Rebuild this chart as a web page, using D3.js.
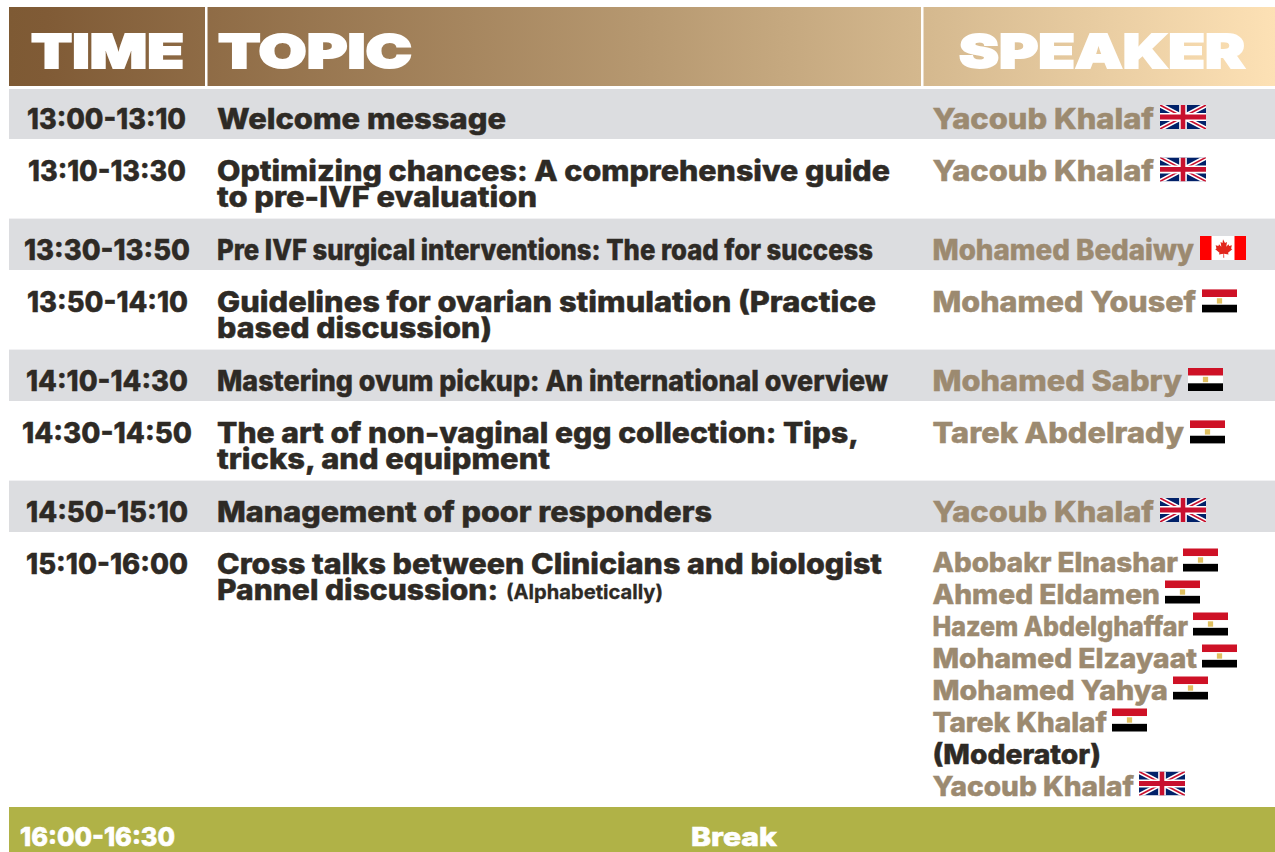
<!DOCTYPE html>
<html><head><meta charset="utf-8">
<script src="https://cdn.jsdelivr.net/npm/d3@7"></script>
<style>html,body{margin:0;background:#fff;overflow:hidden}svg{display:block}text{font-family:Inter,"Noto Sans",sans-serif}</style>
</head><body><svg id="c" width="1275" height="852"></svg>
<script>
// ---- data ----
const headers = ["TIME","TOPIC","SPEAKER"];
const times = ["13:00-13:10","13:10-13:30","13:30-13:50","13:50-14:10","14:10-14:30","14:30-14:50","14:50-15:10","15:10-16:00"];
const topics = [
 ["Welcome message"],
 ["Optimizing chances: A comprehensive guide","to pre-IVF evaluation"],
 ["Pre IVF surgical interventions: The road for success"],
 ["Guidelines for ovarian stimulation (Practice","based discussion)"],
 ["Mastering ovum pickup: An international overview"],
 ["The art of non-vaginal egg collection: Tips,","tricks, and equipment"],
 ["Management of poor responders"],
 ["Cross talks between Clinicians and biologist","Pannel discussion:"]
];
const topicNote = "(Alphabetically)";
const rowSpeakers = ["Yacoub Khalaf","Yacoub Khalaf","Mohamed Bedaiwy","Mohamed Yousef","Mohamed Sabry","Tarek Abdelrady","Yacoub Khalaf"];
const rowFlags = ["uk","uk","ca","eg","eg","eg","uk"];
const panel = ["Abobakr Elnashar","Ahmed Eldamen","Hazem Abdelghaffar","Mohamed Elzayaat","Mohamed Yahya","Tarek Khalaf","(Moderator)","Yacoub Khalaf"];
const panelFlags = ["eg","eg","eg","eg","eg","eg",null,"uk"];
const breakTime = "16:00-16:30", breakLabel = "Break";

// ---- layout (measured extents of each text run) ----
const rowUnits = [0,2,5,7,10,12,15,17];
const timeX = [[27,186],[28,186],[24,190],[27,188],[26,188],[22,192],[26,188],[26,188]];
const topicEnd = [[506],[890,537],[873],[876,492],[888],[859,550],[712],[882,498]];
const speakerEnd = [1154,1154,1194,1196,1182,1184,1154];
const panelEnd = [1178,1160,1188,1197,1168,1107,1101,1134];
const headerX = [[31,184],[218,412],[959,1245]];

const svg = d3.select("#c");
const y = d3.scaleLinear().domain([0,1]).range([87.6,113.8]);   // one text line per unit
const INK="#2e2a25", TAN="#9c8a70", BAND="#dcdde0", OLIVE="#b0b247";
const defs = svg.append("defs");
const g = defs.append("linearGradient").attr("id","hg").attr("gradientUnits","userSpaceOnUse").attr("x1",9).attr("x2",1275).attr("y1",0).attr("y2",0);
[[0,"#7e5a34"],[.03,"#805b36"],[.5,"#b69870"],[.72,"#d4b88e"],[1,"#fde1b5"]].forEach(s=>g.append("stop").attr("offset",s[0]).attr("stop-color",s[1]));
const clipUK = defs.append("clipPath").attr("id","ukc"); clipUK.append("rect").attr("width",60).attr("height",30);

function txt(parent,s,x0,x1,base,size,weight,fill,bold=.45){
  return parent.append("text").attr("x",x0).attr("y",base).attr("font-size",size).attr("font-weight",weight).attr("fill",fill)
   .attr("stroke",fill).attr("stroke-width",bold)
   .attr("textLength",x1-x0).attr("lengthAdjust","spacingAndGlyphs").text(s);
}
function flag(kind,x,base){
  const w = kind==="eg"?35:46, h = kind==="eg"?23:24;
  const f = svg.append("g").attr("transform",`translate(${x},${base-h}) scale(${w/60},${h/30})`);
  if(kind==="eg"){
    f.append("rect").attr("width",60).attr("height",10).attr("fill","#ce1126");
    f.append("rect").attr("y",10).attr("width",60).attr("height",10).attr("fill","#fff");
    f.append("rect").attr("y",20).attr("width",60).attr("height",10).attr("fill","#000");
    f.append("rect").attr("x",25.5).attr("y",11.5).attr("width",9).attr("height",7).attr("fill","#e0c060");
  } else if(kind==="ca"){
    f.append("rect").attr("width",60).attr("height",30).attr("fill","#fff");
    f.append("rect").attr("width",15).attr("height",30).attr("fill","#f00");
    f.append("rect").attr("x",45).attr("width",15).attr("height",30).attr("fill","#f00");
    f.append("path").attr("fill","#e2261d").attr("d","M30 4l2.6 4.6 2.6-1.2-1 6 3-3 .8 2 3.6-.7-1.1 4 1.6.9-5.5 4.4.6 2-5.8-.8.2 5h-1.2l.2-5-5.8.8.6-2-5.5-4.4 1.6-.9-1.1-4 3.6.7.8-2 3 3-1-6 2.6 1.2z");
  } else {
    const u = f.append("g").attr("clip-path","url(#ukc)");
    u.append("rect").attr("width",60).attr("height",30).attr("fill","#012169");
    u.append("path").attr("d","M0 0L60 30M60 0L0 30").attr("stroke","#fff").attr("stroke-width",6);
    u.append("path").attr("d","M0 0L60 30M60 0L0 30").attr("stroke","#c8102e").attr("stroke-width",2);
    u.append("path").attr("d","M30 0V30M0 15H60").attr("stroke","#fff").attr("stroke-width",10);
    u.append("path").attr("d","M30 0V30M0 15H60").attr("stroke","#c8102e").attr("stroke-width",6);
  }
}

// header
svg.append("rect").attr("x",9).attr("y",7).attr("width",1266).attr("height",79).attr("fill","url(#hg)");
[205,921].forEach(x=>svg.append("rect").attr("x",x).attr("y",7).attr("width",2.5).attr("height",79).attr("fill","#fff"));
headers.forEach((h,i)=>{ txt(svg,h,headerX[i][0],headerX[i][1],68,47,900,"#fff",1.8); });

// stripes
times.forEach((_,i)=>{ if(i%2===0 && i<7){
  const top = Math.max(89,y(rowUnits[i]));
  svg.append("rect").attr("x",9).attr("y",top).attr("width",1266).attr("height",y(rowUnits[i+1])-1-top).attr("fill",BAND);
}});

// rows
times.forEach((t,i)=>{
  const base = y(rowUnits[i])+41.4;
  txt(svg,t,timeX[i][0],timeX[i][1],base,28,800,INK);
  topics[i].forEach((line,j)=>txt(svg,line,217,topicEnd[i][j],base+26*j,28,800,INK));
  if(i<7){
    txt(svg,rowSpeakers[i],932.5,speakerEnd[i],base,28,800,TAN);
    flag(rowFlags[i],speakerEnd[i]+6,base);
  }
});
txt(svg,topicNote,506,663,y(rowUnits[7])+65.5,20,700,INK,.3);

// panel
panel.forEach((p,i)=>{
  const base = 571.5+32*i;
  txt(svg,p,932.5,panelEnd[i],base,27,800,panelFlags[i]?TAN:INK);
  if(panelFlags[i]) flag(panelFlags[i],panelEnd[i]+5,base);
});

// break bar
svg.append("rect").attr("x",9).attr("y",807).attr("width",1266).attr("height",45).attr("fill",OLIVE);
txt(svg,breakTime,20,175,845.5,26,800,"#fff",.6);
txt(svg,breakLabel,691,777,845.5,26,800,"#fff",.6);
</script></body></html>
